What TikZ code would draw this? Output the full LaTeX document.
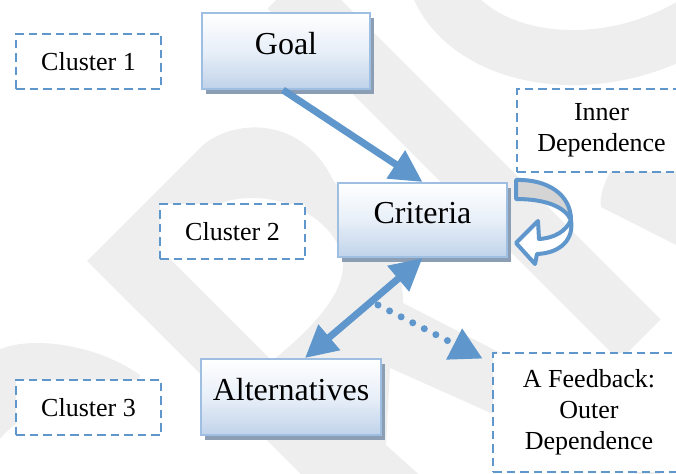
\documentclass[tikz,border=0pt]{standalone}
\usepackage{fontspec}
\setmainfont{Liberation Serif}
\usetikzlibrary{arrows.meta,shadows,calc}

\definecolor{linkblue}{RGB}{95,150,204}
\definecolor{wm}{RGB}{238,238,238}
\definecolor{boxedge}{RGB}{158,190,226}
\definecolor{boxbot}{RGB}{192,211,234}
\definecolor{boxmid}{RGB}{232,239,248}
\definecolor{shadowc}{RGB}{140,158,180}
\definecolor{loopgrey}{RGB}{212,212,212}

\tikzset{
  bigtri/.tip={Triangle[length=32pt,width=32pt]},
  dottri/.tip={Triangle[length=32pt,width=33pt]},
  mainbox/.style={draw=boxedge, line width=2pt, top color=white, bottom color=boxbot,
    middle color=boxmid, inner sep=0pt,
    drop shadow={shadow xshift=4pt, shadow yshift=-5pt, fill=shadowc, opacity=1},
    font=\fontsize{32}{38}\selectfont},
  clusterbox/.style={draw=linkblue, line width=2.8pt, dash pattern=on 8.5pt off 5pt,
    fill=white, minimum width=145pt, minimum height=55pt, inner sep=0pt,
    font=\fontsize{26}{31}\selectfont},
  notebox/.style={clusterbox, align=center},
  conn/.style={draw=linkblue, line width=7pt},
  dotconn/.style={draw=linkblue, line width=7pt, line cap=round,
    dash pattern=on 0pt off 13pt},
  wmband/.style={draw=wm, line width=#1},
  ribbon/.style={draw=linkblue, line width=4pt, line join=round}
}

\begin{document}
\begin{tikzpicture}[x=1pt,y=-1pt]
\useasboundingbox (0,0) rectangle (676,473);
\begin{scope}
\clip (0,0) rectangle (676,473);
\fill[white] (0,0) rectangle (676,473);

% light grey background strokes
\draw[wmband=58pt] (288,-12) -- (640,340);
\fill[wm, even odd rule]
  (307,480) -- (87,261) -- (200,148)
  .. controls (228,120) and (300,112) .. (333,180)
  -- (385,245) .. controls (398,262) and (403,280) .. (403,303)
  -- (660,435) -- (660,484) -- (491,413) -- (390,368) -- (386,445)
  -- (425,480) -- cycle
  (164,253) -- (272,361) .. controls (310,330) and (345,295) .. (343,262)
  .. controls (340,230) and (300,198) .. (253,198)
  .. controls (228,198) and (212,205) .. (200,217) -- cycle;
\draw[wmband=55pt] (438,-14) .. controls (470,62) and (600,84) .. (700,20);
\fill[wm] (650,120) .. controls (612,160) and (598,190) .. (601,207)
  -- (690,252) -- (690,120) -- cycle;
\fill[wm] (-5,352) .. controls (20,336) and (90,340) .. (140,375) -- (130,420)
  -- (60,410) .. controls (30,410) and (10,425) .. (-5,445) -- cycle;

% cluster labels and notes
\node[clusterbox] (c1) at (88.5,61.5) {Cluster 1};
\node[clusterbox] (c2) at (232.5,231.5) {Cluster 2};
\node[clusterbox] (c3) at (88.5,407.5) {Cluster 3};
\node[notebox, minimum width=169pt, minimum height=83pt] (inner) at (601.5,130.5)
  {Inner\\Dependence};
\node[notebox, minimum width=192pt, minimum height=119pt] (feedback) at (589,412.5)
  {A Feedback:\\Outer\\Dependence};

% hierarchy boxes
\node[mainbox, minimum width=168pt, text height=41.5pt, text depth=34.5pt]
  (goal) at (286,51) {Goal};
\node[mainbox, minimum width=169pt, text height=40.5pt, text depth=33.5pt]
  (criteria) at (422.5,220) {Criteria};
\node[mainbox, minimum width=180pt, text height=41.5pt, text depth=34.5pt]
  (alternatives) at (291,397) {Alternatives};

% connectors
\draw[conn, -{bigtri}] ([xshift=-3pt]goal.south) -- (criteria.north);
\draw[conn, {bigtri}-{bigtri}] ([xshift=14pt]alternatives.north) -- (criteria.south);
\coordinate (fbstart) at (378,305);
\draw[dotconn, -{dottri}] (fbstart)
  -- ([xshift=-9pt,yshift=-7pt]feedback.north west);

% curved self-dependence arrow on the criteria cluster
\begin{scope}[shift={(criteria.east)}]
  \filldraw[ribbon, fill=loopgrey] (8,-40) .. controls (40,-41) and (63,-25) .. (63,0)
    .. controls (57,-13) and (38,-21) .. (8,-21) -- cycle;
  \filldraw[ribbon, fill=white] (31,19) -- (30,1) -- (8,23) -- (27,44) -- (29,34)
    .. controls (53,33) and (66,19) .. (63,0)
    .. controls (58,11) and (47,18) .. (31,19) -- cycle;
\end{scope}
\end{scope}
\end{tikzpicture}
\end{document}
